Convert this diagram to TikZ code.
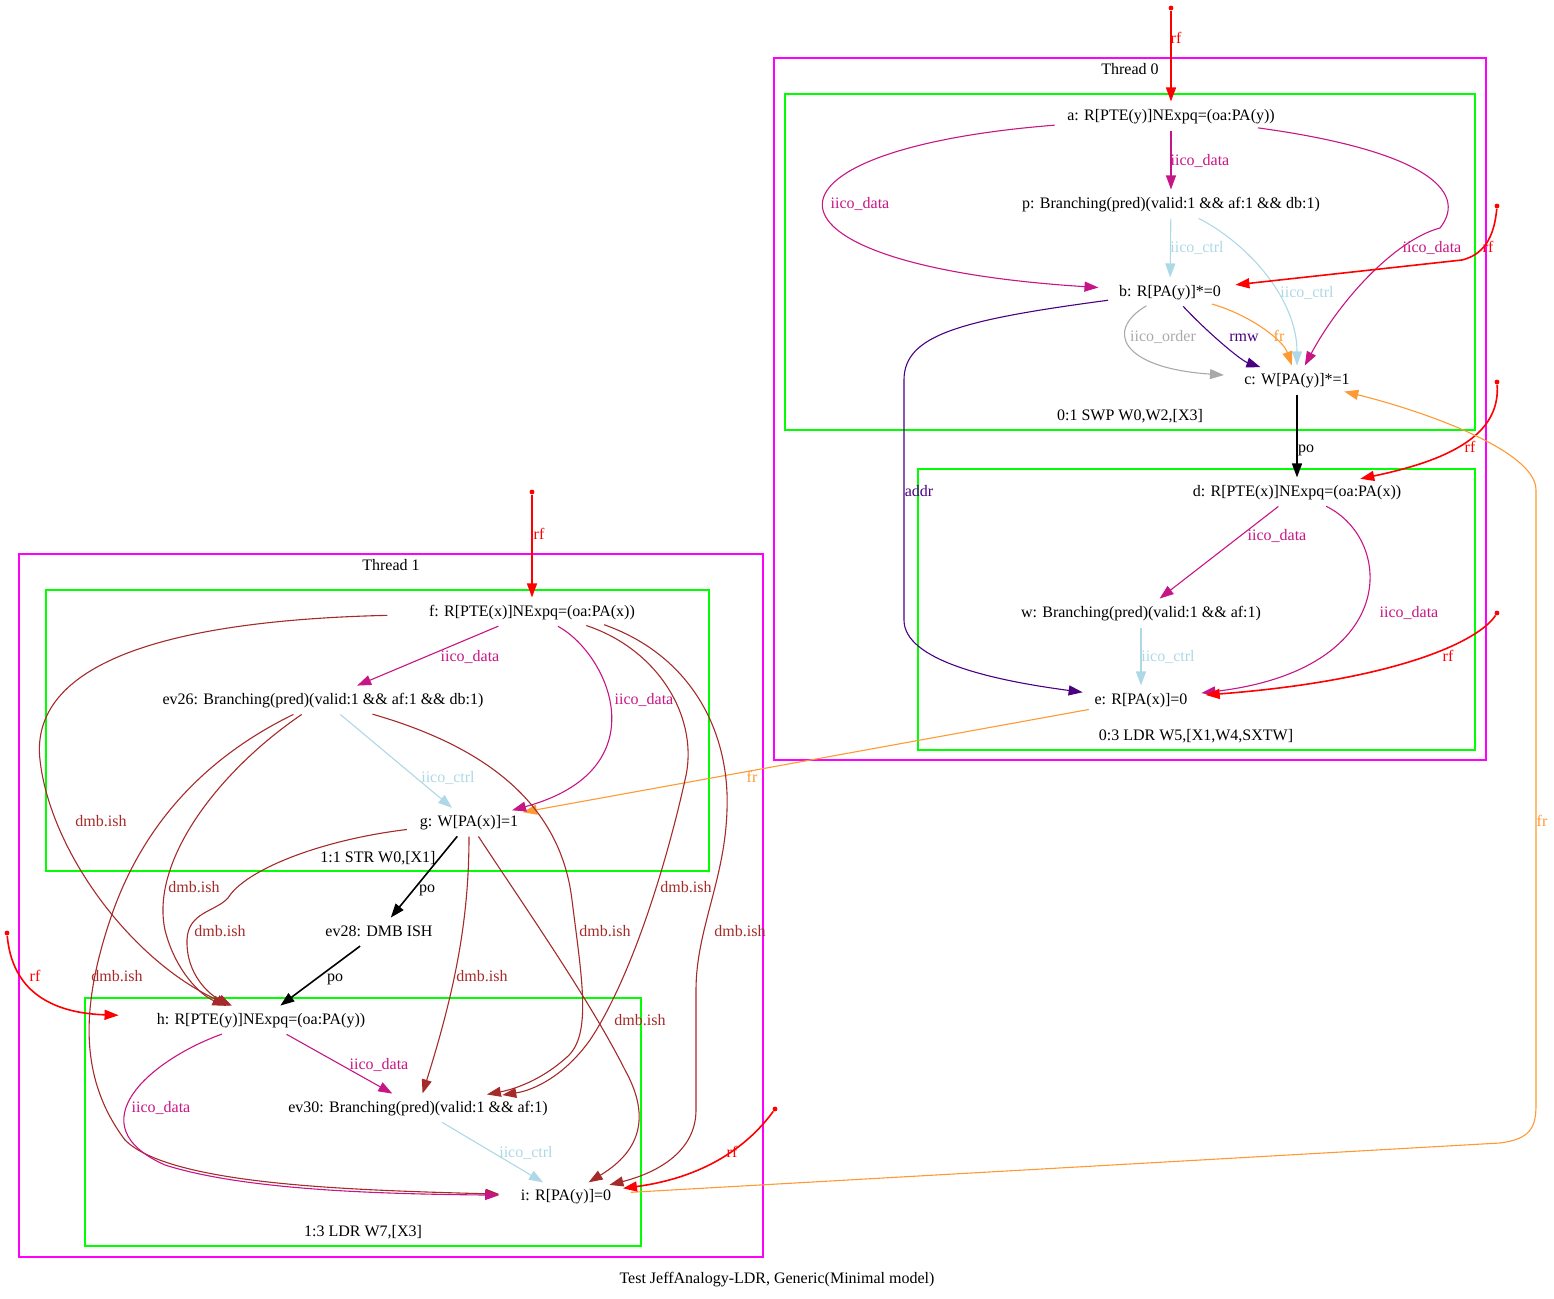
\documentclass[tikz,border=0pt]{standalone}
\usepackage{fontspec}
\setmainfont{Liberation Serif}
\usetikzlibrary{arrows.meta,shapes.geometric}
\definecolor{iicodata}{RGB}{199,21,133}
\definecolor{iicoctrl}{RGB}{173,216,230}
\definecolor{iicoorder}{RGB}{169,169,169}
\definecolor{rmwcol}{RGB}{75,0,130}
\definecolor{frcol}{RGB}{255,153,51}
\definecolor{dmbcol}{RGB}{165,42,42}
\definecolor{threadcol}{RGB}{255,0,255}
\definecolor{instrcol}{RGB}{0,255,0}

\begin{document}
\begin{tikzpicture}
            [x=0.5pt,y=-0.5pt,every node/.style={font=\fontsize{8}{9.6}\selectfont},
            ev/.style={ellipse,inner xsep=1pt,inner ysep=1.1pt,text height=6pt,text depth=1.8pt},
            lbl/.style={inner sep=0pt,text height=6pt,text depth=1.8pt},
            src/.style={circle,fill=red,inner sep=0pt,minimum size=2.4pt},
            edge/.style={line width=0.55pt,-{Triangle[length=7pt,width=5pt]}},
            rfe/.style={edge,red,line width=0.8pt},
            poe/.style={edge,black,line width=0.8pt},
            datae/.style={edge,iicodata},
            ctrle/.style={edge,iicoctrl},
            ordere/.style={edge,iicoorder},
            rmwe/.style={edge,rmwcol},
            addre/.style={edge,rmwcol},
            fre/.style={edge,frcol},
            dmbe/.style={edge,dmbcol},
            threadbox/.style={draw=threadcol,line width=0.6pt},
            instrbox/.style={draw=instrcol,line width=0.6pt}]
            \useasboundingbox (0,0) rectangle (1554,1299);
            \draw[threadbox] (774,58) rectangle (1486,760);
            \draw[instrbox] (785,94) rectangle (1475,430);
            \draw[instrbox] (918,469) rectangle (1475,750);
            \draw[threadbox] (19,554) rectangle (763,1257);
            \draw[instrbox] (46,590) rectangle (709,871);
            \draw[instrbox] (85,998) rectangle (641,1246);
            \node[lbl] (t0) at (1130,70) {Thread 0};
            \node[lbl] (t1) at (391,566) {Thread 1};
            \node[lbl] (swp) at (1130,416) {0:1 SWP W0,W2,[X3]};
            \node[lbl] (ldr0) at (1196,736) {0:3 LDR W5,[X1,W4,SXTW]};
            \node[lbl] (str) at (378,858) {1:1 STR W0,[X1]};
            \node[lbl] (ldr1) at (363,1232) {1:3 LDR W7,[X3]};
            \node[lbl] (title) at (777,1279) {Test JeffAnalogy-LDR, Generic(Minimal model)};
            \node[ev] (a) at (1171,116) {a: R[PTE(y)]NExpq=(oa:PA(y))};
            \node[ev] (p) at (1171,204) {p: Branching(pred)(valid:1 \&\& af:1 \&\& db:1)};
            \node[ev] (b) at (1170,292) {b: R[PA(y)]*=0};
            \node[ev] (c) at (1297,380) {c: W[PA(y)]*=1};
            \node[ev] (d) at (1297,492) {d: R[PTE(x)]NExpq=(oa:PA(x))};
            \node[ev] (w) at (1141,613) {w: Branching(pred)(valid:1 \&\& af:1)};
            \node[ev] (e) at (1141,700) {e: R[PA(x)]=0};
            \node[ev] (f) at (532,612) {f: R[PTE(x)]NExpq=(oa:PA(x))};
            \node[ev] (ev26) at (323,700) {ev26: Branching(pred)(valid:1 \&\& af:1 \&\& db:1)};
            \node[ev] (g) at (469,822) {g: W[PA(x)]=1};
            \node[ev] (ev28) at (379,932) {ev28: DMB ISH};
            \node[ev] (h) at (261,1020) {h: R[PTE(y)]NExpq=(oa:PA(y))};
            \node[ev] (ev30) at (418,1108) {ev30: Branching(pred)(valid:1 \&\& af:1)};
            \node[ev] (i) at (566,1196) {i: R[PA(y)]=0};
            \node[src] (sa) at (1171,8) {};
            \node[src] (sb) at (1497,206) {};
            \node[src] (sd) at (1497,382) {};
            \node[src] (se) at (1497,613) {};
            \node[src] (sf) at (532,492) {};
            \node[src] (sh) at (7,933) {};
            \node[src] (si) at (775,1109) {};
            \draw[rfe] (sa) -- (a) node[lbl] at (1176,39) {rf};
            \draw[datae] (a) -- (p) node[lbl] at (1200,161) {iico\_data};
            \draw[datae] (a) .. controls (740,150) and (740,265) .. (b) node[lbl] at (860,204) {iico\_data};
            \draw[datae] (a) .. controls (1420,150) and (1470,190) .. (1440,228) .. controls (1395,240) and (1340,300) .. (c) node[lbl] at (1432,248) {iico\_data};
            \draw[ctrle] (p) -- (b) node[lbl] at (1197,248) {iico\_ctrl};
            \draw[ctrle] (p) .. controls (1250,245) and (1297,300) .. (c) node[lbl] at (1307,293) {iico\_ctrl};
            \draw[rfe] (sb) .. controls (1494,240) and (1482,255) .. (1462,260) -- (b) node[lbl] at (1488,248) {rf};
            \draw[ordere] (b) .. controls (1105,330) and (1120,368) .. (c) node[lbl] at (1163,337) {iico\_order};
            \draw[rmwe] (b) .. controls (1205,330) and (1240,360) .. (c) node[lbl] at (1244,337) {rmw};
            \draw[fre] (b) .. controls (1250,315) and (1283,340) .. (c) node[lbl] at (1279,337) {fr};
            \draw[poe] (c) -- (d) node[lbl] at (1306,448) {po};
            \draw[rfe] (sd) .. controls (1500,430) and (1460,458) .. (d) node[lbl] at (1470,448) {rf};
            \draw[addre] (b) .. controls (960,320) and (904,335) .. (904,380) -- (904,620) .. controls (904,660) and (990,680) .. (e) node[lbl] at (919,492) {addr};
            \draw[datae] (d) -- (w) node[lbl] at (1277,536) {iico\_data};
            \draw[datae] (d) .. controls (1395,540) and (1400,670) .. (e) node[lbl] at (1409,613) {iico\_data};
            \draw[rfe] (se) .. controls (1480,640) and (1400,680) .. (e) node[lbl] at (1448,657) {rf};
            \draw[ctrle] (w) -- (e) node[lbl] at (1168,657) {iico\_ctrl};
            \draw[fre] (e) -- (g) node[lbl] at (752,778) {fr};
            \draw[fre] (i) -- (1500,1143) .. controls (1530,1139) and (1536,1128) .. (1536,1105) -- (1536,490) .. controls (1536,450) and (1420,410) .. (c) node[lbl] at (1542,822) {fr};
            \draw[rfe] (sf) -- (f) node[lbl] at (539,535) {rf};
            \draw[datae] (f) -- (ev26) node[lbl] at (470,657) {iico\_data};
            \draw[datae] (f) .. controls (610,655) and (660,770) .. (g) node[lbl] at (644,700) {iico\_data};
            \draw[ctrle] (ev26) -- (g) node[lbl] at (448,778) {iico\_ctrl};
            \draw[poe] (g) -- (ev28) node[lbl] at (427,888) {po};
            \draw[poe] (ev28) -- (h) node[lbl] at (335,977) {po};
            \draw[rfe] (sh) .. controls (12,990) and (50,1013) .. (h) node[lbl] at (35,977) {rf};
            \draw[dmbe] (f) .. controls (100,622) and (32,690) .. (40,760) .. controls (50,850) and (130,960) .. (h) node[lbl] at (101,822) {dmb.ish};
            \draw[dmbe] (ev26) .. controls (220,770) and (150,860) .. (165,930) .. controls (175,970) and (200,995) .. (h) node[lbl] at (194,888) {dmb.ish};
            \draw[dmbe] (g) .. controls (320,840) and (245,870) .. (228,898) .. controls (215,912) and (188,912) .. (187,940) .. controls (186,975) and (210,995) .. (h) node[lbl] at (220,932) {dmb.ish};
            \draw[dmbe] (ev26) .. controls (200,760) and (140,830) .. (110,920) .. controls (80,1010) and (80,1080) .. (125,1140) .. controls (170,1185) and (350,1190) .. (i) node[lbl] at (117,977) {dmb.ish};
            \draw[dmbe] (g) .. controls (469,920) and (455,990) .. (ev30) node[lbl] at (482,977) {dmb.ish};
            \draw[dmbe] (ev26) .. controls (480,745) and (560,800) .. (572,900) .. controls (582,980) and (592,1035) .. (567,1057) .. controls (545,1077) and (520,1088) .. (ev30) node[lbl] at (605,932) {dmb.ish};
            \draw[dmbe] (f.-14) .. controls (660,650) and (700,720) .. (685,780) .. controls (665,870) and (630,980) .. (590,1040) .. controls (565,1075) and (535,1090) .. (ev30) node[lbl] at (686,888) {dmb.ish};
            \draw[dmbe] (f.-10) .. controls (690,655) and (730,730) .. (727,810) .. controls (725,880) and (696,930) .. (696,990) -- (696,1110) .. controls (696,1150) and (660,1172) .. (i) node[lbl] at (740,932) {dmb.ish};
            \draw[dmbe] (g) .. controls (520,900) and (590,1000) .. (625,1070) .. controls (650,1115) and (642,1150) .. (i) node[lbl] at (640,1021) {dmb.ish};
            \draw[datae] (h) -- (ev30) node[lbl] at (379,1065) {iico\_data};
            \draw[datae] (h) .. controls (150,1060) and (75,1125) .. (165,1165) .. controls (250,1192) and (400,1194) .. (i) node[lbl] at (161,1108) {iico\_data};
            \draw[ctrle] (ev30) -- (i) node[lbl] at (526,1153) {iico\_ctrl};
            \draw[rfe] (si) .. controls (745,1150) and (700,1178) .. (i) node[lbl] at (732,1153) {rf};
        \end{tikzpicture}
\end{document}
